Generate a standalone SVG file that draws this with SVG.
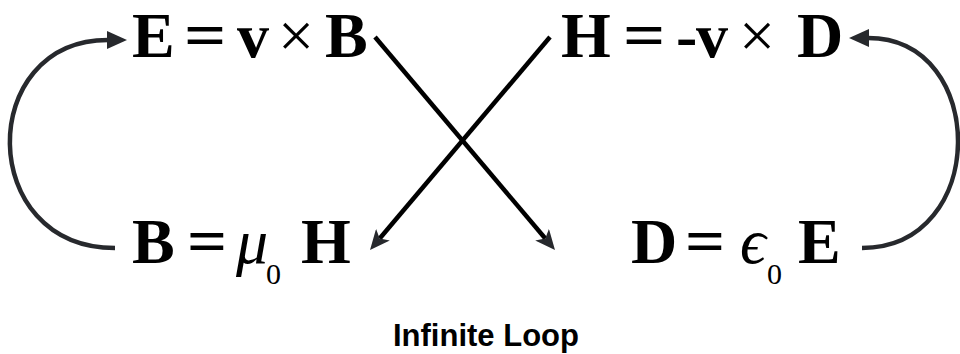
<svg xmlns="http://www.w3.org/2000/svg" width="960" height="354" viewBox="0 0 960 354">
<style>
.eq{font-family:"Liberation Serif","Times New Roman",serif;font-weight:bold;font-size:64px;fill:#000}
.op{font-family:"Liberation Serif","Times New Roman",serif;font-weight:normal;font-size:64px;fill:#000}
.it{font-family:"Liberation Serif","DejaVu Serif","Times New Roman",serif;font-style:italic;font-weight:normal;font-size:64px;fill:#000}
.sub{font-family:"Liberation Serif","Times New Roman",serif;font-weight:normal;font-size:30px;fill:#000}
.cap{font-family:"Liberation Sans",Arial,sans-serif;font-weight:bold;font-size:31px;fill:#000}
.curve{fill:none;stroke:#27292d;stroke-width:4.5}
.line{fill:none;stroke:#000;stroke-width:4.5}
</style>
<defs>
<marker id="ah" viewBox="0 0 20 18" refX="1" refY="9" markerWidth="20" markerHeight="18" markerUnits="userSpaceOnUse" orient="auto">
<path d="M0,0 L20,9 L0,18 z" fill="#27292d"/>
</marker>
<marker id="ad" viewBox="0 0 20 18" refX="5" refY="9" markerWidth="20" markerHeight="18" markerUnits="userSpaceOnUse" orient="auto">
<path d="M0,0 L20,9 L0,18 L5,9 z" fill="#27292d"/>
</marker>
</defs>
<g id="connectors">
<path class="curve" d="M115,248 C-24,248 -24,40 108,40" marker-end="url(#ah)"/>
<path class="curve" d="M862,248 C989,248 989,38 868,38" marker-end="url(#ah)"/>
<path class="line" d="M375,37 L545.3,238.5" marker-end="url(#ad)"/>
<path class="line" d="M550,37 L379.7,238.5" marker-end="url(#ad)"/>
</g>
<g id="eq-E">
<text class="eq" x="132" y="57">E</text>
<text class="eq" transform="translate(184,57) scale(1.16,1)">=</text>
<text class="eq" x="237" y="57">v</text>
<text class="op" x="278" y="57">×</text>
<text class="eq" x="325" y="57">B</text>
</g>
<g id="eq-H">
<text class="eq" x="561" y="57">H</text>
<text class="eq" transform="translate(623,57) scale(1.16,1)">=</text>
<text class="eq" x="676" y="57">-</text>
<text class="eq" x="696" y="57">v</text>
<text class="op" x="739" y="57">×</text>
<text class="eq" x="797" y="57">D</text>
</g>
<g id="eq-B">
<text class="eq" x="132" y="263">B</text>
<text class="eq" transform="translate(187,263) scale(1.1,1)">=</text>
<text class="it" x="236" y="263">μ</text>
<text class="sub" x="266" y="284">0</text>
<text class="eq" x="301" y="263">H</text>
</g>
<g id="eq-D">
<text class="eq" x="631" y="263">D</text>
<text class="eq" transform="translate(685,263) scale(1.1,1)">=</text>
<text class="it" x="740" y="263">ϵ</text>
<text class="sub" x="767" y="284">0</text>
<text class="eq" x="798" y="263">E</text>
</g>
<g id="caption">
<text class="cap" x="393" y="346">Infinite Loop</text>
</g>
</svg>
